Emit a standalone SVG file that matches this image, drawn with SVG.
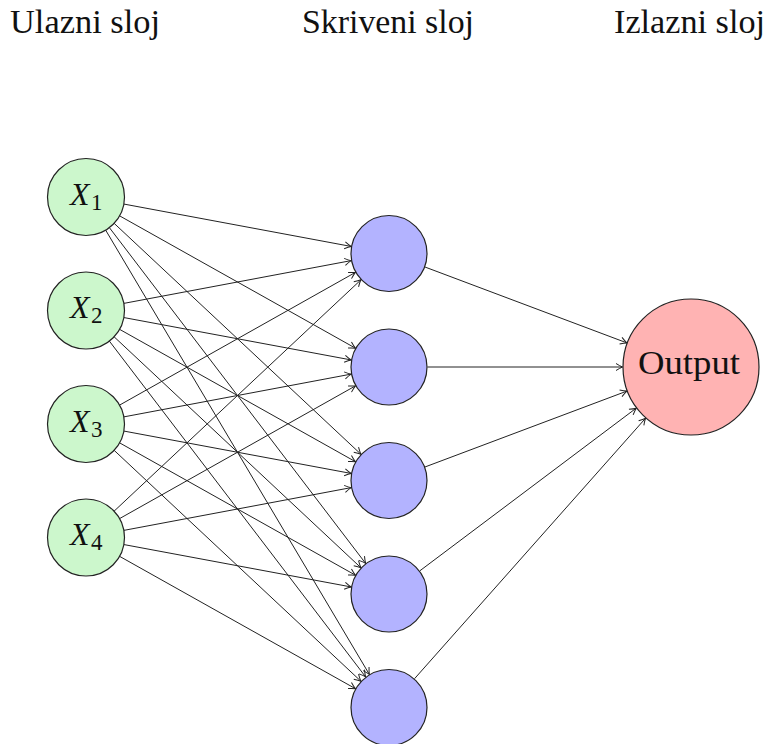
<svg xmlns="http://www.w3.org/2000/svg" width="769" height="744" viewBox="0 0 769 744">
<style>
.hdr{font-family:"Liberation Serif",serif;font-size:33px;fill:#111}
.in{fill:#ccf7cc;stroke:#222;stroke-width:1.2}
.hid{fill:#b3b3ff;stroke:#222;stroke-width:1.2}
.out{fill:#ffb3b3;stroke:#222;stroke-width:1.2}
.lbl{font-family:"Liberation Serif",serif;fill:#111}
.x{font-size:32px;font-style:italic}
.sub{font-size:23px}
.e{stroke:#222;stroke-width:1;fill:none;marker-end:url(#arr)}
</style>
<defs>
<marker id="arr" markerUnits="userSpaceOnUse" markerWidth="12" markerHeight="10" viewBox="-8 -5 10 10" refX="0" refY="0" orient="auto">
<path d="M-6.5,-3.5 Q-2.5,-1 0,0 Q-2.5,1 -6.5,3.5" fill="none" stroke="#222" stroke-width="1"/>
</marker>
</defs>
<rect width="769" height="744" fill="#fff"/>
<text class="hdr" x="10" y="33" textLength="150" lengthAdjust="spacingAndGlyphs">Ulazni sloj</text>
<text class="hdr" x="302" y="33" textLength="172" lengthAdjust="spacingAndGlyphs">Skriveni sloj</text>
<text class="hdr" x="614" y="33" textLength="151" lengthAdjust="spacingAndGlyphs">Izlazni sloj</text>
<g id="connectors">
<path class="e" d="M123.85,204.06 L351.15,246.44"/>
<path class="e" d="M119.58,215.84 L355.42,348.16"/>
<path class="e" d="M114.11,223.3 L360.89,454.2"/>
<path class="e" d="M109.36,227.6 L365.64,563.4"/>
<path class="e" d="M105.65,230.11 L369.35,674.39"/>
<path class="e" d="M123.84,303.38 L351.16,260.62"/>
<path class="e" d="M123.85,317.56 L351.15,359.94"/>
<path class="e" d="M119.58,329.34 L355.42,461.66"/>
<path class="e" d="M114.11,336.8 L360.89,567.7"/>
<path class="e" d="M109.36,341.1 L365.64,676.9"/>
<path class="e" d="M119.55,405.12 L355.45,272.38"/>
<path class="e" d="M123.84,416.88 L351.16,374.12"/>
<path class="e" d="M123.85,431.06 L351.15,473.44"/>
<path class="e" d="M119.58,442.84 L355.42,575.16"/>
<path class="e" d="M114.11,450.3 L360.89,681.2"/>
<path class="e" d="M114.09,511.17 L360.91,279.83"/>
<path class="e" d="M119.55,518.62 L355.45,385.88"/>
<path class="e" d="M123.84,530.38 L351.16,487.62"/>
<path class="e" d="M123.85,544.56 L351.15,586.94"/>
<path class="e" d="M119.58,556.34 L355.42,688.66"/>
<path class="e" d="M425.04,267.04 L626.88,342.9"/>
<path class="e" d="M427.5,367 L622.5,367"/>
<path class="e" d="M425.04,466.96 L626.88,391.1"/>
<path class="e" d="M419.78,570.87 L636.24,408.15"/>
<path class="e" d="M414.54,678.7 L645.55,418.24"/>
</g>
<g id="x1"><circle class="in" cx="86" cy="197" r="38.5"/><text class="lbl"><tspan class="x" x="70" y="204.5">X</tspan><tspan class="sub" x="91" y="209.5">1</tspan></text></g>
<g id="x2"><circle class="in" cx="86" cy="310.5" r="38.5"/><text class="lbl"><tspan class="x" x="70" y="318">X</tspan><tspan class="sub" x="91" y="323">2</tspan></text></g>
<g id="x3"><circle class="in" cx="86" cy="424" r="38.5"/><text class="lbl"><tspan class="x" x="70" y="431.5">X</tspan><tspan class="sub" x="91" y="436.5">3</tspan></text></g>
<g id="x4"><circle class="in" cx="86" cy="537.5" r="38.5"/><text class="lbl"><tspan class="x" x="70" y="545">X</tspan><tspan class="sub" x="91" y="550">4</tspan></text></g>
<g id="h1"><circle class="hid" cx="389" cy="253.5" r="38"/></g>
<g id="h2"><circle class="hid" cx="389" cy="367" r="38"/></g>
<g id="h3"><circle class="hid" cx="389" cy="480.5" r="38"/></g>
<g id="h4"><circle class="hid" cx="389" cy="594" r="38"/></g>
<g id="h5"><circle class="hid" cx="389" cy="707.5" r="38"/></g>
<g id="output"><circle class="out" cx="691" cy="367" r="68"/><text class="lbl" x="638" y="374" font-size="34" textLength="102" lengthAdjust="spacingAndGlyphs">Output</text></g>
</svg>
